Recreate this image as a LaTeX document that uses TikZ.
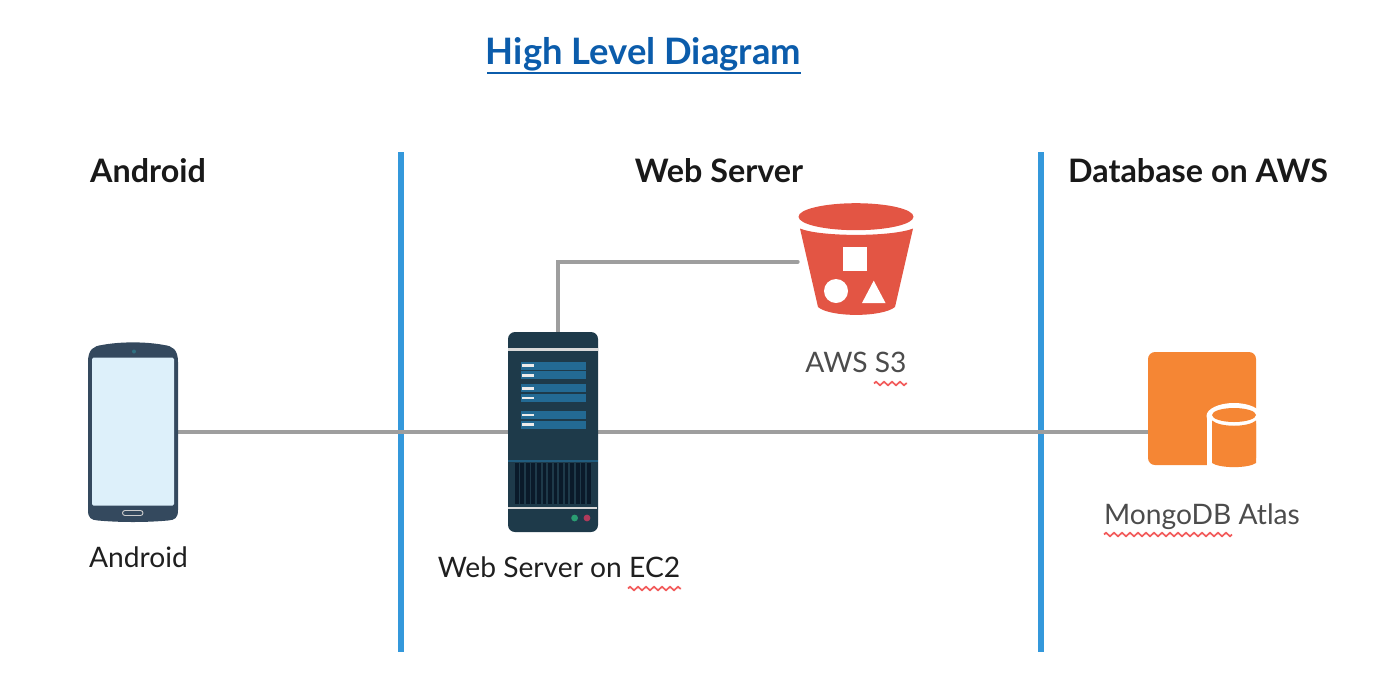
\documentclass[tikz,border=0pt]{standalone}
\usepackage{fontspec}
\setmainfont{Lato}
\usepackage{xcolor}
\usetikzlibrary{decorations.pathmorphing}

\definecolor{titleblue}{HTML}{0B5CAB}
\definecolor{laneblue}{HTML}{3498DB}
\definecolor{wiregray}{HTML}{9E9E9E}
\definecolor{phonenavy}{HTML}{34495E}
\definecolor{screenblue}{HTML}{DDF0FA}
\definecolor{rackdark}{HTML}{1E3A4A}
\definecolor{rackblue}{HTML}{236A94}
\definecolor{ventdark}{HTML}{0A1A2A}
\definecolor{ledgreen}{HTML}{2A9D72}
\definecolor{ledred}{HTML}{B03A5B}
\definecolor{cameteal}{HTML}{2F7080}
\definecolor{bucketred}{HTML}{E35544}
\definecolor{atlasorange}{HTML}{F58634}
\definecolor{squigglered}{HTML}{F25C5C}

\tikzset{
    header/.style={font=\fontsize{32.3}{38}\selectfont\bfseries, text=black!90},
    caption/.style={font=\fontsize{28.2}{33}\selectfont, text=black!88},
    softcaption/.style={font=\fontsize{28.2}{33}\selectfont, text=black!70},
    lane/.style={laneblue, line width=6pt},
    wire/.style={wiregray, line width=4.4pt, line cap=round},
    icon/.style={inner sep=0pt, outer sep=0pt},
    squiggle/.style={squigglered, line width=1.7pt, decorate,
        decoration={zigzag, segment length=8pt, amplitude=1.8pt}},
}

\begin{document}
\begin{tikzpicture}[x=1pt, y=-1pt]
    \useasboundingbox (0,0) rectangle (1380,694);

    % Title
    \node[icon, font=\fontsize{36.4}{42}\selectfont\bfseries, text=titleblue] (title) at (643.5,54.5) {High Level Diagram};
    \coordinate (titleleft) at (487,73.3);
    \coordinate (titleright) at (800.5,73.3);
    \draw[titleblue, line width=2pt] (titleleft) -- (titleright);

    % Column headers
    \node[header] (headandroid) at (148,170.5) {Android};
    \node[header] (headweb) at (719,170.5) {Web Server};
    \node[header] (headdb) at (1198,170.5) {Database on AWS};

    % Lane separators
    \coordinate (laneatop) at (401,152);
    \coordinate (laneabot) at (401,652);
    \coordinate (lanebtop) at (1041,152);
    \coordinate (lanebbot) at (1041,652);
    \draw[lane] (laneatop) -- (laneabot);
    \draw[lane] (lanebtop) -- (lanebbot);

    % Anchor boxes of the four icons
    \node[icon, minimum width=90pt, minimum height=180pt] (phone) at (133,432) {};
    \node[icon, minimum width=90pt, minimum height=200pt] (server) at (553,432) {};
    \node[icon, minimum width=114pt, minimum height=113pt] (bucket) at (856.5,259.5) {};
    \node[icon, minimum width=108pt, minimum height=113pt] (atlas) at (1202,408.5) {};

    % Connectors
    \draw[wire] (phone.east) -- (server.west);
    \draw[wire] (server.east) -- (atlas.west |- server.east);
    \draw[wire] ([xshift=5pt]server.north) |- ([xshift=-2pt,yshift=-2.3pt]bucket.west);

    % Phone
    \fill[phonenavy] (88,362) .. controls (88,349) and (94,346) .. (102,345)
        .. controls (120,341.5) and (146,341.5) .. (164,345)
        .. controls (172,346) and (178,349) .. (178,362)
        -- (178,510) .. controls (178,518) and (175,520) .. (168,520.5)
        .. controls (146,522.5) and (120,522.5) .. (98,520.5)
        .. controls (91,520) and (88,518) .. (88,510) -- cycle;
    \fill[screenblue, rounded corners=1.5pt] (92,357.5) rectangle (174,505.5);
    \fill[cameteal] (134,351.5) circle (2);
    \draw[black!20!white, line width=0.9pt, rounded corners=2.5pt] (122.5,510.5) rectangle (143,515.5);

    % Server
    \fill[rackdark, rounded corners=7pt] (508,332) rectangle (598,532);
    \fill[black!15!white] (508,348.3) rectangle (598,350.6);
    \foreach \rowy in {365.7,375.3,388.3,397.8,414.8,424.5} {
        \fill[rackblue] (521,\rowy-4) rectangle (586,\rowy+4);
        \fill[black!8!white] (522.3,\rowy-1.3) rectangle (534,\rowy+1.3);
    }
    \fill[rackblue!70!rackdark] (508,460) rectangle (598,462.2);
    \fill[ventdark] (515,463) rectangle (590.5,504);
    \foreach \ventx in {0,...,13} {
        \fill[rackdark] (518.5+5.55*\ventx,463) rectangle (520.3+5.55*\ventx,504);
    }
    \fill[black!15!white] (508,506.5) rectangle (597,508.7);
    \fill[ledgreen] (574.6,518) circle (3.4);
    \fill[ledred] (587,518) circle (3.4);

    % Bucket
    \fill[bucketred] (856,216.7) ellipse (57.5 and 13.5);
    \fill[bucketred] (800,228.5) .. controls (820,237) and (892,237) .. (913,228.5)
        -- (895,307) .. controls (882,317.5) and (830,317.5) .. (818,307) -- cycle;
    \fill[white] (843.3,247.3) rectangle (867.3,271);
    \fill[white] (836,291) circle (12);
    \fill[white] (873.7,280.7) -- (862,303) -- (885.5,303) -- cycle;

    % Atlas block with its cylinder cut out
    \fill[atlasorange, rounded corners=7pt] (1148,352) rectangle (1256,465);
    \fill[white] (1206.5,416) rectangle (1256,468);
    \fill[white] (1234,416) ellipse (27.5 and 13);
    \fill[atlasorange] (1234,415) ellipse (22 and 7);
    \fill[atlasorange] (1212,420.5) .. controls (1220,427.5) and (1248,427.5) .. (1256,420.5)
        -- (1256,463) .. controls (1248,468.5) and (1220,468.5) .. (1212,463) -- cycle;

    % Captions
    \node[caption] (labandroid) at (138.5,557) {Android};
    \node[caption] (labserver) at (559,567) {Web Server on EC2};
    \node[softcaption] (labbucket) at (856,362) {AWS S3};
    \node[softcaption] (labatlas) at (1202,517) {MongoDB Atlas};

    % Spell check marks
    \coordinate (sqaleft) at (628,588.5);
    \coordinate (sqaright) at (681,588.5);
    \coordinate (sqbleft) at (874,383.5);
    \coordinate (sqbright) at (907,383.5);
    \coordinate (sqcleft) at (1104,534.5);
    \coordinate (sqcright) at (1232,534.5);
    \draw[squiggle] (sqaleft) -- (sqaright);
    \draw[squiggle] (sqbleft) -- (sqbright);
    \draw[squiggle] (sqcleft) -- (sqcright);
\end{tikzpicture}
\end{document}
